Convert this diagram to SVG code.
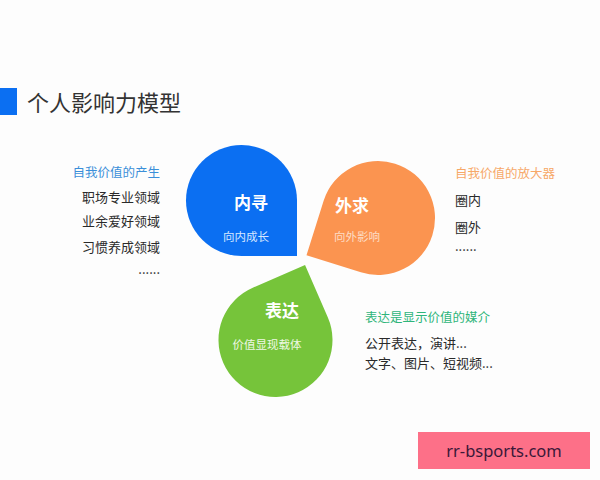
<svg xmlns="http://www.w3.org/2000/svg" xmlns:xlink="http://www.w3.org/1999/xlink" width="600" height="480" viewBox="0 0 600 480">
<style>
text{font-family:"Noto Sans CJK SC","Noto Sans",sans-serif;}
.title{font-size:22px;fill:#333;}
.item{font-size:13px;fill:#2a2a2a;}
.head{font-size:12.5px;}
.big{font-size:17px;font-weight:bold;fill:#fff;text-anchor:middle;}
.sub{font-size:11.5px;text-anchor:middle;}
</style>
<defs>
<path id="drop" d="M1,1 L0,1 A1 1 0 0 1 -1,0 A1 1 0 0 1 0,-1 A1 1 0 0 1 1,0 Z"/>
</defs>
<rect width="600" height="480" fill="#fdfdfd"/>
<g id="title">
<rect x="0" y="88" width="17" height="27" fill="#0b6ff2"/>
<text class="title" x="27" y="111">个人影响力模型</text>
</g>
<g id="left-list">
<text class="head" x="160" y="177" text-anchor="end" fill="#3b8fd9">自我价值的产生</text>
<text class="item" x="160" y="202" text-anchor="end">职场专业领域</text>
<text class="item" x="160" y="226" text-anchor="end">业余爱好领域</text>
<text class="item" x="160" y="252" text-anchor="end">习惯养成领域</text>
<text class="item" x="160" y="274" text-anchor="end">......</text>
</g>
<g id="node-neixun">
<use xlink:href="#drop" href="#drop" transform="translate(241.5,200.5) scale(55.5)" fill="#0b6ff2"/>
<text class="big" x="251" y="208.5">内寻</text>
<text class="sub" x="246" y="241" fill="#d6e7ff">向内成长</text>
</g>
<g id="node-waiqiu">
<use xlink:href="#drop" href="#drop" transform="translate(378,218) rotate(107.5) scale(57)" fill="#fb9450"/>
<text class="big" x="352" y="211.5">外求</text>
<text class="sub" x="357" y="241" fill="#fddcc4">向外影响</text>
</g>
<g id="node-biaoda">
<use xlink:href="#drop" href="#drop" transform="translate(275.5,340) rotate(-113.5) scale(57)" fill="#76c43a"/>
<text class="big" x="282" y="316.5">表达</text>
<text class="sub" x="267" y="349" fill="#eef8e4">价值显现载体</text>
</g>
<g id="right-top-list">
<text class="head" x="455" y="178" fill="#f7a868">自我价值的放大器</text>
<text class="item" x="455" y="205">圈内</text>
<text class="item" x="455" y="232">圈外</text>
<text class="item" x="455" y="251">......</text>
</g>
<g id="right-bottom-list">
<text class="head" x="365" y="322" fill="#2fb57a">表达是显示价值的媒介</text>
<text class="item" x="365" y="348">公开表达，演讲...</text>
<text class="item" x="365" y="368">文字、图片、短视频...</text>
</g>
<g id="watermark">
<rect x="418" y="432" width="172" height="37" fill="#fd7088"/>
<text x="504" y="457" text-anchor="middle" style="font-family:'Noto Sans',sans-serif;font-size:16.5px;fill:#3a1838;">rr-bsports.com</text>
</g>
</svg>
